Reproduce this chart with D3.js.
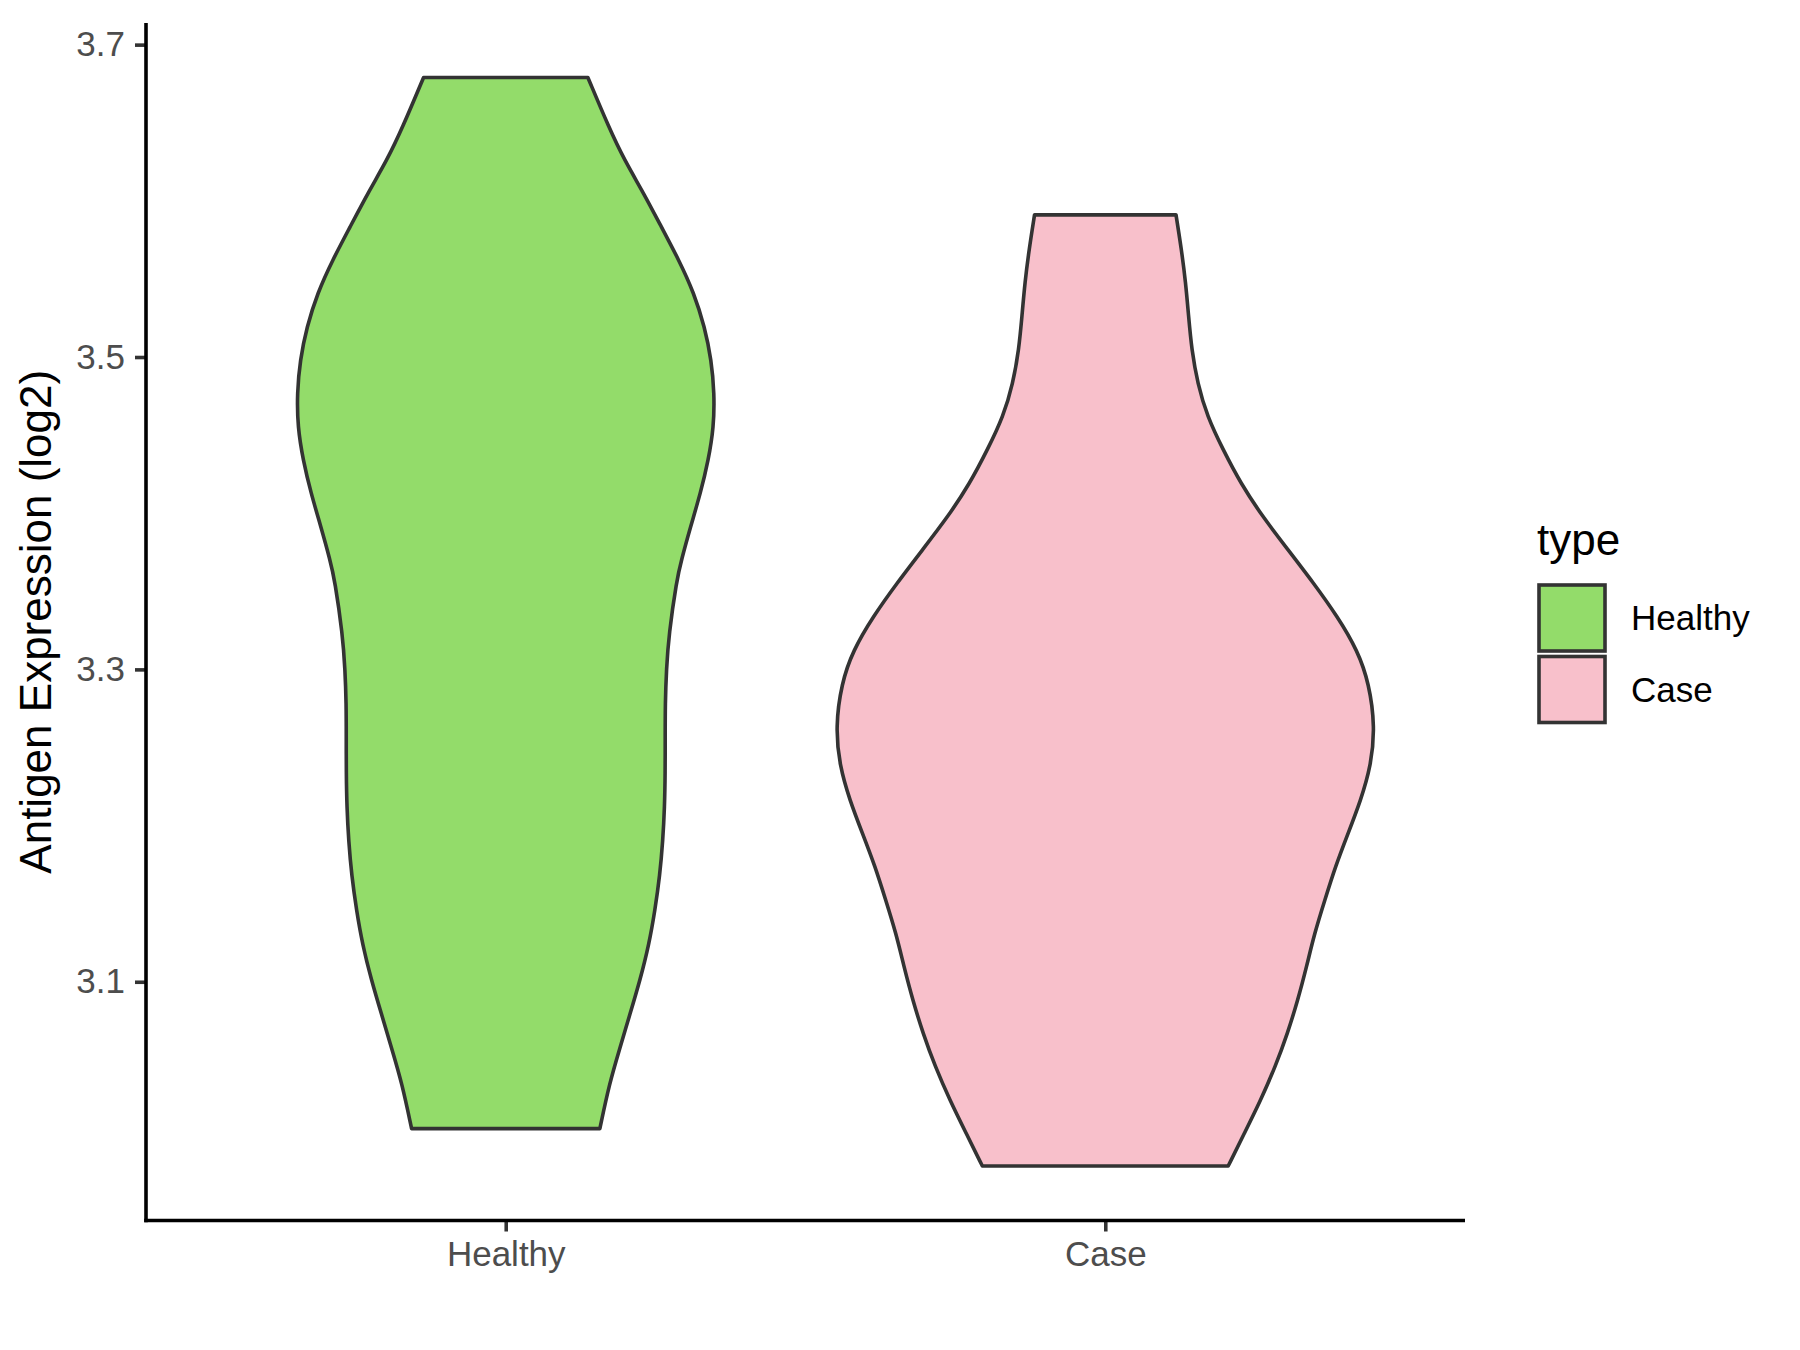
<!DOCTYPE html>
<html>
<head>
<meta charset="utf-8">
<script src="https://cdn.jsdelivr.net/npm/d3@7"></script>
<style>
  html, body { margin: 0; padding: 0; background: #ffffff; }
  svg { display: block; }
  text { font-family: "Liberation Sans", Arial, Helvetica, sans-serif; }
</style>
</head>
<body>
<svg id="chart" width="1800" height="1350"></svg>
<script>
// ---- data ----
const categories = ["Healthy", "Case"];
const fillColors = ["#93DC6A", "#F8C0CB"];
const yTicks = [3.1, 3.3, 3.5, 3.7];
const yTitle = "Antigen Expression (log2)";
const legendTitle = "type";

// violin outline: y value and half-width (in category units)
const healthyY = [3.679, 3.647, 3.626, 3.605, 3.583, 3.562, 3.541, 3.519, 3.498, 3.477, 3.455, 3.434, 3.413, 3.391, 3.370, 3.357, 3.322, 3.300, 3.278, 3.256, 3.234, 3.212, 3.190, 3.168, 3.146, 3.124, 3.101, 3.079, 3.057, 3.035, 3.006];
const healthyW = [0.137, 0.172, 0.198, 0.230, 0.260, 0.289, 0.314, 0.332, 0.343, 0.348, 0.347, 0.338, 0.325, 0.308, 0.293, 0.285, 0.272, 0.268, 0.266, 0.266, 0.266, 0.265, 0.262, 0.257, 0.249, 0.239, 0.224, 0.207, 0.190, 0.173, 0.157];
const caseY = [3.591, 3.569, 3.548, 3.526, 3.505, 3.483, 3.462, 3.441, 3.419, 3.398, 3.377, 3.355, 3.334, 3.312, 3.291, 3.263, 3.238, 3.216, 3.195, 3.174, 3.152, 3.131, 3.110, 3.088, 3.067, 3.046, 3.024, 3.003, 2.982];
const caseW = [0.118, 0.127, 0.134, 0.139, 0.144, 0.154, 0.170, 0.196, 0.226, 0.262, 0.304, 0.348, 0.387, 0.421, 0.440, 0.450, 0.443, 0.426, 0.405, 0.384, 0.366, 0.349, 0.336, 0.321, 0.304, 0.284, 0.259, 0.232, 0.205];

const violins = [
  { cat: "Healthy", ys: healthyY, ws: healthyW },
  { cat: "Case", ys: caseY, ws: caseW }
];

// ---- layout ----
const panel = { left: 146, right: 1465, top: 23, bottom: 1220.5 };
const svg = d3.select("#chart");

const allY = healthyY.concat(caseY);
const yMin = d3.min(allY), yMax = d3.max(allY);
const pad = (yMax - yMin) * 0.05;
const y = d3.scaleLinear().domain([yMin - pad, yMax + pad]).range([panel.bottom, panel.top]);

// discrete x with ggplot-style 0.6 expansion
const x = d3.scaleLinear().domain([0.4, categories.length + 0.6]).range([panel.left, panel.right]);

const color = d3.scaleOrdinal().domain(categories).range(fillColors);

// ---- violins ----
violins.forEach(v => {
  const pts = v.ys.map((yy, i) => ({ y: yy, w: v.ws[i] }));
  const cx = categories.indexOf(v.cat) + 1;
  const area = d3.area()
    .y(d => y(d.y))
    .x0(d => x(cx - d.w))
    .x1(d => x(cx + d.w))
    .curve(d3.curveBasis);
  svg.append("path")
    .datum(pts)
    .attr("d", area)
    .attr("fill", color(v.cat))
    .attr("stroke", "#333333")
    .attr("stroke-width", 3.6)
    .attr("stroke-linejoin", "round");
});

// ---- axes ----
const yAxis = d3.axisLeft(y).tickValues(yTicks).tickFormat(d3.format(".1f")).tickSize(11).tickPadding(10);
const gy = svg.append("g").attr("transform", `translate(${panel.left},0)`).call(yAxis);
gy.select(".domain").remove();
gy.selectAll(".tick line").attr("stroke", "#333333").attr("stroke-width", 3.6);
gy.selectAll(".tick text").attr("fill", "#4D4D4D").style("font-size", "35px")
  .style("font-family", "'Liberation Sans', Arial, sans-serif");

const xAxis = d3.axisBottom(x).tickValues(categories.map((c, i) => i + 1))
  .tickFormat((d) => categories[d - 1]).tickSize(11).tickPadding(10);
const gx = svg.append("g").attr("transform", `translate(0,${panel.bottom})`).call(xAxis);
gx.select(".domain").remove();
gx.selectAll(".tick line").attr("stroke", "#333333").attr("stroke-width", 3.6);
gx.selectAll(".tick text").attr("fill", "#4D4D4D").style("font-size", "35px")
  .style("font-family", "'Liberation Sans', Arial, sans-serif").attr("dy", "0.71em");

// axis lines
svg.append("line").attr("x1", panel.left).attr("x2", panel.left)
  .attr("y1", panel.top).attr("y2", panel.bottom + 1.8)
  .attr("stroke", "#000").attr("stroke-width", 3.6);
svg.append("line").attr("x1", panel.left - 1.8).attr("x2", panel.right)
  .attr("y1", panel.bottom).attr("y2", panel.bottom)
  .attr("stroke", "#000").attr("stroke-width", 3.6);

// y title
svg.append("text")
  .attr("transform", `translate(51,${(panel.top + panel.bottom) / 2}) rotate(-90)`)
  .attr("text-anchor", "middle")
  .attr("fill", "#000")
  .style("font-size", "44px")
  .text(yTitle);

// ---- legend ----
const lg = svg.append("g");
lg.append("text").attr("x", 1537).attr("y", 555).attr("fill", "#000").style("font-size", "44px").text(legendTitle);
const keySize = 66;
categories.forEach((c, i) => {
  const ky = 585 + i * 71.5;
  lg.append("rect").attr("x", 1539).attr("y", ky).attr("width", keySize).attr("height", keySize)
    .attr("fill", color(c)).attr("stroke", "#333333").attr("stroke-width", 3.6);
  lg.append("text").attr("x", 1631).attr("y", ky + keySize / 2).attr("dy", "0.35em")
    .attr("fill", "#000").style("font-size", "35px").text(c);
});
</script>
</body>
</html>
